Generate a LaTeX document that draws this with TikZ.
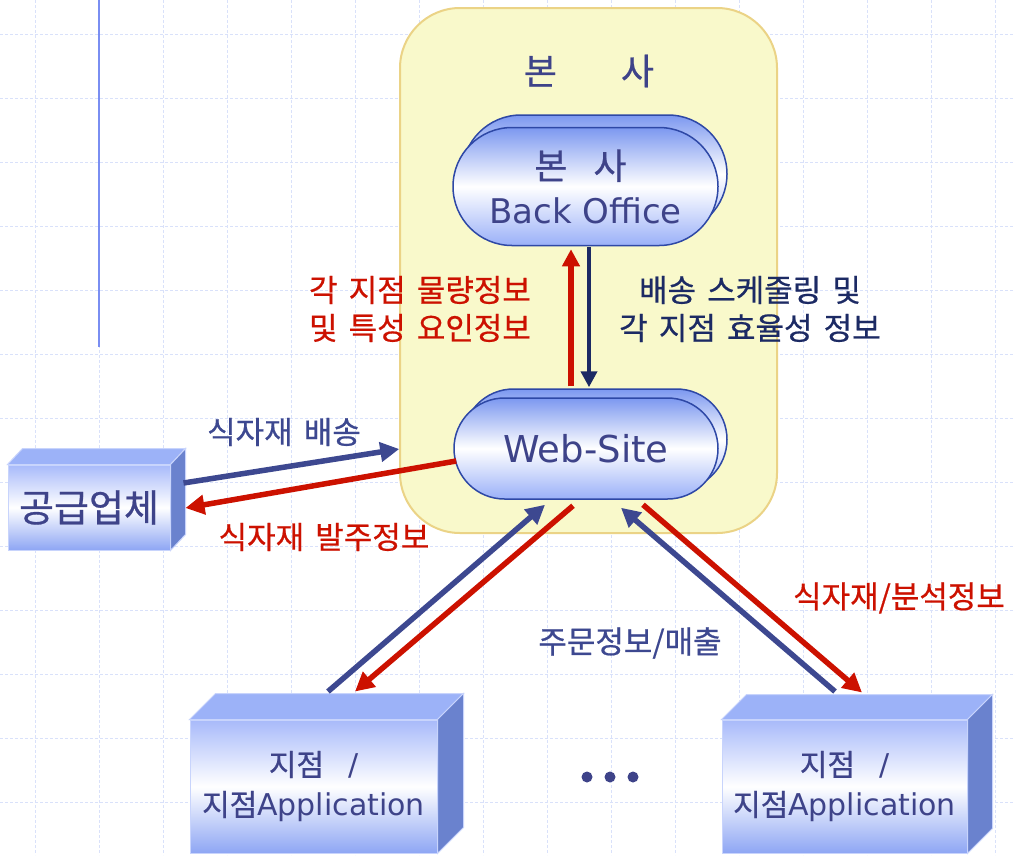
\documentclass[tikz,border=0pt]{standalone}
\usepackage{fontspec}
\setmainfont{DejaVu Sans}
\newfontfamily\kr[WordSpace=1.6,RawFeature={embolden=0.6}]{Noto Sans CJK KR}
\usetikzlibrary{arrows.meta,calc}
\definecolor{gridc}{HTML}{D9E1FA}
\definecolor{tmplblue}{HTML}{7A8EF2}
\definecolor{hqfill}{HTML}{F9F9CB}
\definecolor{hqline}{HTML}{EBD386}
\definecolor{txtblue}{HTML}{3E4389}
\definecolor{darknavy}{HTML}{1C2A64}
\definecolor{arrnavy}{HTML}{3D4890}
\definecolor{arrred}{HTML}{CC1100}
\definecolor{stop}{HTML}{7C98F0}
\definecolor{sbot}{HTML}{9AB0F8}
\definecolor{sline}{HTML}{2E48A6}
\definecolor{cfront}{HTML}{A8BAFA}
\definecolor{cfrontb}{HTML}{8EA6F4}
\definecolor{ctop}{HTML}{9CB2F8}
\definecolor{cside}{HTML}{6A82CE}
\definecolor{cedge}{HTML}{C8D4FC}
\begin{document}
\begin{tikzpicture}[x=1pt,y=-1pt,
  gridline/.style={gridc, line width=1pt, dash pattern=on 3pt off 2pt},
  hqbox/.style={draw=hqline, fill=hqfill, line width=2pt, rounded corners=60pt, inner sep=0pt},
  stadium/.style={draw=sline, line width=1.5pt, top color=stop, bottom color=sbot, middle color=white, inner sep=0pt, text=txtblue, align=center},
  cuboid/.style={draw=cedge, line width=1pt, top color=cfront, bottom color=cfrontb, middle color=white, inner sep=0pt, text=txtblue, align=center},
  ctopface/.style={fill=ctop, draw=cedge, line width=1pt},
  csideface/.style={fill=cside, draw=cedge, line width=1pt},
  lbl/.style={inner sep=0pt, align=center, font=\fontsize{31}{38}\selectfont\kr},
  arrN/.style={arrnavy, line width=5.5pt, -{Triangle[length=19pt,width=19pt]}},
  arrR/.style={arrred, line width=5.5pt, -{Triangle[length=19pt,width=19pt]}},
  arrRv/.style={arrred, line width=6pt, -{Triangle[length=17pt,width=17pt]}},
  arrNv/.style={darknavy, line width=4.5pt, -{Triangle[length=16pt,width=16pt]}}
]
\useasboundingbox (0,0) rectangle (1015,855);
\fill[white] (0,0) rectangle (1015,855);
\foreach \gx in {35,99,...,995} \draw[gridline] (\gx,0) -- (\gx,855);
\foreach \gy in {34,98,...,802} \draw[gridline] (0,\gy) -- (1015,\gy);
\draw[tmplblue, line width=2pt] (99,0) -- (99,347);

% head office container
\node[hqbox, minimum width=377pt, minimum height=525pt] (hq) at (588.5,270.5) {};
\node[inner sep=0pt, text=txtblue, font=\fontsize{36}{40}\selectfont\kr] (hqt) at (589,71) {본\hspace{64pt}사};

% back office
\node[stadium, minimum width=265pt, minimum height=118pt, rounded corners=59pt] (bob) at (594.5,174) {};
\node[stadium, minimum width=265pt, minimum height=118pt, rounded corners=59pt, font=\fontsize{34}{44}\selectfont] (bo) at (585.5,186.5) {\hspace*{-10pt}{\kr\fontsize{36}{44}\selectfont 본\hspace{26pt}사}\\Back Office};

% web-site
\node[stadium, minimum width=264pt, minimum height=101pt, rounded corners=50.5pt] (wsb) at (595,439.5) {};
\node[stadium, minimum width=264pt, minimum height=101pt, rounded corners=50.5pt, font=\fontsize{37}{40}\selectfont] (ws) at (586,448.5) {\raisebox{-2pt}{Web-Site}};

% supplier cuboid
\node[cuboid, minimum width=162pt, minimum height=85pt, font=\fontsize{38}{40}\selectfont\kr] (sup) at (89,507.5) {공급업체};
\filldraw[ctopface] (sup.north west) -- ++(15,-16) -- ([shift={(15,-16)}]sup.north east) -- (sup.north east) -- cycle;
\filldraw[csideface] (sup.north east) -- ++(15,-16) -- ([shift={(15,-16)}]sup.south east) -- (sup.south east) -- cycle;

% branch cuboids
\node[cuboid, minimum width=247pt, minimum height=133pt, font=\fontsize{30}{40}\selectfont] (br1) at (313.5,786.5) {{\kr 지점}\hspace{24pt}/\\{\kr 지점}Application};
\filldraw[ctopface] (br1.north west) -- ++(26,-26) -- ([shift={(26,-26)}]br1.north east) -- (br1.north east) -- cycle;
\filldraw[csideface] (br1.north east) -- ++(26,-26) -- ([shift={(26,-26)}]br1.south east) -- (br1.south east) -- cycle;

\node[cuboid, minimum width=245pt, minimum height=133pt, font=\fontsize{30}{40}\selectfont] (br2) at (844.5,786.5) {{\kr 지점}\hspace{24pt}/\\{\kr 지점}Application};
\filldraw[ctopface] (br2.north west) -- ++(25,-25) -- ([shift={(25,-25)}]br2.north east) -- (br2.north east) -- cycle;
\filldraw[csideface] (br2.north east) -- ++(25,-25) -- ([shift={(25,-25)}]br2.south east) -- (br2.south east) -- cycle;

% dots
\fill[txtblue] (587,777) circle (5.5) (610,777) circle (5.5) (633,777) circle (5.5);

% labels
\node[lbl, text=arrred] (l1) at (420,309) {각 지점 물량정보\\및 특성 요인정보};
\node[lbl, text=darknavy] (l2) at (750,309) {배송 스케줄링 및\\각 지점 효율성 정보};
\node[lbl, text=arrnavy] (l3) at (284,432) {식자재 배송};
\node[lbl, text=arrred] (l4) at (324,537) {식자재 발주정보};
\node[lbl, text=arrnavy] (l5) at (630,643) {주문정보/매출};
\node[lbl, text=arrred] (l6) at (899,598) {식자재/분석정보};

% vertical arrows
\draw[arrRv] ([xshift=-24pt,yshift=2pt]wsb.north) -- ([xshift=-14.5pt,yshift=-3pt]bo.south);
\draw[arrNv] ([xshift=3.5pt,yshift=-1pt]bo.south) -- ([xshift=-6pt,yshift=1pt]wsb.north);

% supplier arrows
\draw[arrN] ([xshift=13pt,yshift=24.5pt]sup.east) -- ([xshift=-54pt,yshift=-0.5pt]ws.west);
\draw[arrR] ([xshift=3pt,yshift=-12.5pt]ws.west) -- ([xshift=15pt,yshift=-0.5pt]sup.east);

% branch arrows
\draw[arrN] ([xshift=14.5pt,yshift=28pt]br1.north) -- ([xshift=-41pt,yshift=-5pt]ws.south);
\draw[arrR] ([xshift=-13pt,yshift=-6pt]ws.south) -- ([xshift=41.5pt,yshift=28pt]br1.north);
\draw[arrN] ([xshift=-9.5pt,yshift=28pt]br2.north) -- ([xshift=35pt,yshift=-8pt]ws.south);
\draw[arrR] ([xshift=57pt,yshift=-5pt]ws.south) -- ([xshift=17.5pt,yshift=27pt]br2.north);
\end{tikzpicture}
\end{document}
